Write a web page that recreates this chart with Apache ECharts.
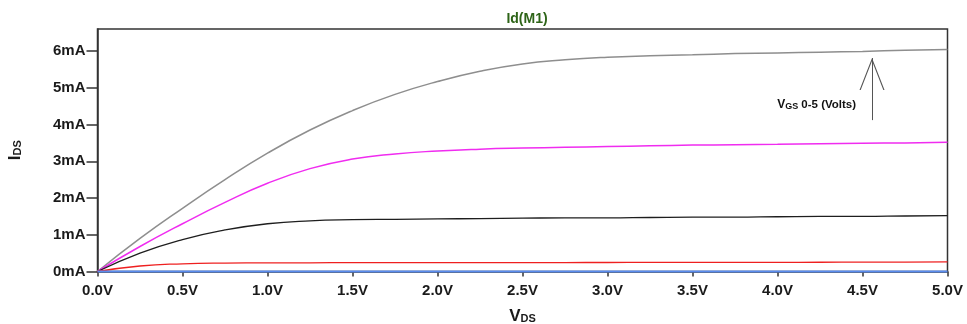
<!DOCTYPE html>
<html>
<head>
<meta charset="utf-8">
<script src="https://cdn.jsdelivr.net/npm/echarts@6/dist/echarts.min.js"></script>
<style>
  html, body { margin: 0; padding: 0; background: #fff; }
  #chart { width: 967px; height: 324px; }
</style>
</head>
<body>
<div id="chart"></div>
<script>
// drain voltage (V)
const vds = [0, 0.25, 0.5, 0.75, 1.0, 1.25, 1.5, 1.75, 2.0, 2.25, 2.5, 2.75, 3.0, 3.25, 3.5, 3.75, 4.0, 4.25, 4.5, 4.75, 5.0];
// drain current per gate voltage (mA)
const idVgs5 = [0, 0.9, 1.72, 2.5, 3.22, 3.85, 4.38, 4.82, 5.17, 5.45, 5.65, 5.76, 5.83, 5.87, 5.9, 5.93, 5.95, 5.97, 5.99, 6.02, 6.04];
const idVgs4 = [0, 0.68, 1.3, 1.88, 2.4, 2.8, 3.06, 3.2, 3.28, 3.33, 3.36, 3.38, 3.4, 3.42, 3.44, 3.45, 3.46, 3.48, 3.49, 3.5, 3.52];
const idVgs3 = [0, 0.5, 0.87, 1.13, 1.3, 1.38, 1.41, 1.42, 1.43, 1.44, 1.45, 1.46, 1.46, 1.47, 1.48, 1.48, 1.49, 1.5, 1.5, 1.51, 1.52];
const idVgs2 = [0, 0.15, 0.21, 0.23, 0.235, 0.237, 0.24, 0.24, 0.24, 0.242, 0.243, 0.244, 0.245, 0.247, 0.248, 0.249, 0.25, 0.252, 0.254, 0.256, 0.26];
const idVgs1 = [0, 0, 0, 0, 0, 0, 0, 0, 0, 0, 0, 0, 0, 0, 0, 0, 0, 0, 0, 0, 0];
const yTicks = [0, 1, 2, 3, 4, 5, 6];

// arrow annotation (data coords)
const arrowV = 4.556;
const arrowFrom = 4.12;
const arrowTo = 5.81;
const noteAt = [4.23, 4.53];

const font = '"Liberation Sans", Arial, sans-serif';
const pair = (ys) => vds.map((v, i) => [v, ys[i]]);

const chart = echarts.init(document.getElementById('chart'));

function curve(name, ys, color, width) {
  return {
    name: name,
    type: 'line',
    data: pair(ys),
    smooth: 0.5,
    showSymbol: false,
    clip: false,
    lineStyle: { color: color, width: width },
    z: 3
  };
}

const gray = curve('Vgs=5', idVgs5, '#8e8e8e', 1.5);
gray.markLine = {
  silent: true,
  symbol: ['none', 'path://M0,32 L12.5,0 L25,32 L23.8,32 L12.5,3 L1.2,32 Z'],
  symbolSize: [25, 32],
  symbolOffset: [0, [0, 16]],
  lineStyle: { color: '#555', width: 1, type: 'solid' },
  label: { show: false },
  data: [[{ coord: [arrowV, arrowFrom] }, { coord: [arrowV, arrowTo] }]]
};
gray.markPoint = {
  silent: true,
  symbolSize: 0,
  label: {
    show: true,
    position: 'inside',
    formatter: '{v|V}{s|GS}{t| 0-5 (Volts)}',
    rich: {
      v: { fontFamily: font, fontWeight: 'bold', fontSize: 12, color: '#111', verticalAlign: 'bottom' },
      s: { fontFamily: font, fontWeight: 'bold', fontSize: 9, color: '#111', verticalAlign: 'bottom' },
      t: { fontFamily: font, fontWeight: 'bold', fontSize: 11.5, color: '#111', verticalAlign: 'bottom' }
    }
  },
  data: [{ coord: noteAt }]
};

chart.setOption({
  animation: false,
  backgroundColor: '#fff',
  title: {
    text: 'Id(M1)',
    left: 522,
    textAlign: 'center',
    top: 7,
    textStyle: { fontFamily: font, fontWeight: 'bold', fontSize: 14, color: '#2e6418' }
  },
  grid: {
    left: 97.5,
    right: 19.5,
    top: 29,
    bottom: 52.5,
    outerBoundsMode: 'none',
    containLabel: false,
    show: true,
    borderColor: '#333',
    borderWidth: 1.5,
    backgroundColor: 'transparent'
  },
  xAxis: {
    type: 'value',
    min: 0,
    max: 5,
    interval: 0.5,
    name: '{a|V}{b|DS}',
    nameLocation: 'middle',
    nameGap: 36,
    nameTextStyle: {
      rich: {
        a: { fontFamily: font, fontWeight: 'bold', fontSize: 17, color: '#1a1a1a', verticalAlign: 'bottom' },
        b: { fontFamily: font, fontWeight: 'bold', fontSize: 11, color: '#1a1a1a', verticalAlign: 'bottom' }
      }
    },
    axisLine: { lineStyle: { color: '#333', width: 1.5 } },
    axisTick: { inside: false, length: 5, lineStyle: { color: '#333', width: 1.5 } },
    axisLabel: {
      margin: 12,
      fontFamily: font,
      fontWeight: 'bold',
      fontSize: 15,
      color: '#1a1a1a',
      formatter: (v) => v.toFixed(1) + 'V'
    },
    splitLine: { show: false }
  },
  yAxis: {
    type: 'value',
    min: 0,
    max: 6.6,
    interval: 1,
    name: '{a|I}{b|DS}',
    nameLocation: 'middle',
    nameRotate: 90,
    nameGap: 74,
    nameTextStyle: {
      rich: {
        a: { fontFamily: font, fontWeight: 'bold', fontSize: 17, color: '#1a1a1a', verticalAlign: 'bottom' },
        b: { fontFamily: font, fontWeight: 'bold', fontSize: 11, color: '#1a1a1a', verticalAlign: 'bottom' }
      }
    },
    axisLine: { show: true, lineStyle: { color: '#333', width: 1.5 } },
    axisTick: { show: true, length: 11, customValues: yTicks, lineStyle: { color: '#333', width: 1.5 } },
    axisLabel: {
      margin: 12,
      customValues: yTicks,
      fontFamily: font,
      fontWeight: 'bold',
      fontSize: 15,
      color: '#1a1a1a',
      formatter: (v) => v + 'mA'
    },
    splitLine: { show: false }
  },
  series: [
    gray,
    curve('Vgs=4', idVgs4, '#f02cf0', 1.5),
    curve('Vgs=3', idVgs3, '#1e1e1e', 1.3),
    curve('Vgs=2', idVgs2, '#ee2020', 1.3),
    curve('Vgs=1', idVgs1, '#5a8cee', 2)
  ]
});
window.addEventListener('resize', chart.resize);
</script>
</body>
</html>
